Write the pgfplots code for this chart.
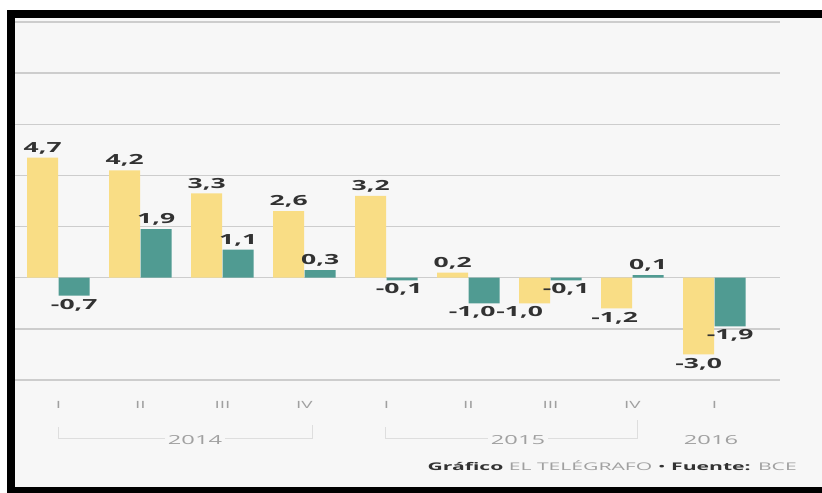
\documentclass[border=0pt]{standalone}
\usepackage{pgfplots}
\pgfplotsset{compat=1.18}
\usepackage{pgfplotstable}
\usepackage{fontspec}
\setmainfont{Open Sans}
\newfontfamily\labfont{Open Sans}[FakeStretch=1.9]
\newfontfamily\tickfont{Open Sans}[FakeStretch=1.9]
\newfontfamily\footfont{Open Sans}[FakeStretch=2.0]
\definecolor{yel}{RGB}{249,221,133}
\definecolor{teal2}{RGB}{80,155,146}
\definecolor{bgc}{RGB}{247,247,247}
\definecolor{gridc}{RGB}{205,205,205}
\definecolor{labc}{RGB}{50,50,50}
\definecolor{tickc}{RGB}{160,160,160}
\definecolor{brc}{RGB}{222,222,222}

\pgfplotstableread{
x y dx
0 4.7 0
1 4.2 0
2 3.3 0
3 2.6 0
4 3.2 0
5 0.2 0
6 -1.0 -15
7 -1.2 -2
8 -3.0 0
}\yellowtab
\pgfplotstableread{
x y dx
0 -0.7 0
1 1.9 0
2 1.1 0
3 0.3 0
4 -0.1 -3
5 -1.0 -12
6 -0.1 0
7 0.1 0
8 -1.9 0
}\tealtab

\begin{document}
\begin{tikzpicture}[x=1bp,y=1bp]
\useasboundingbox (0,0) rectangle (822,493);
\fill[white] (0,0) rectangle (822,493);
\fill[bgc] (15,6) rectangle (822,475);
\fill[black] (7,475) rectangle (822,483);
\fill[black] (7,0) rectangle (15,483);
\fill[black] (7,0) rectangle (822,6);

\begin{axis}[
  at={(15bp,113bp)}, anchor=south west,
  scale only axis, width=765bp, height=358bp,
  xmin=-0.53, xmax=8.80, ymin=-4, ymax=10,
  axis line style={draw=none},
  major tick length=0pt,
  ytick={-4,-2,...,10}, yticklabels={},
  ymajorgrids, grid style={color=gridc, line width=1.3bp},
  xtick={0,...,8},
  xticklabels={I,II,III,IV,I,II,III,IV,I},
  xticklabel style={font=\tickfont\fontsize{10}{10}\selectfont, text=tickc, anchor=base, yshift=-29bp},
  ybar=0.5bp, bar width=31bp,
  clip=false,
  visualization depends on={\thisrow{dx} \as \dx},
  nodes near coords={\pgfmathprintnumber[fixed,fixed zerofill,precision=1,use comma,assume math mode=true]{\pgfplotspointmeta}},
  every node near coord/.append style={font=\labfont\bfseries\fontsize{14}{14}\selectfont, text=labc, xshift=\dx bp},
]
\addplot[fill=yel, draw=none] table[x=x,y=y] {\yellowtab};
\addplot[fill=teal2, draw=none] table[x=x,y=y] {\tealtab};
\end{axis}

% year brackets
\draw[brc, line width=1bp] (58,54) -- (312,54);
\draw[brc, line width=1bp] (58,54) -- (58,66);
\draw[brc, line width=1bp] (312,54) -- (312,68);
\draw[brc, line width=1bp] (385,54) -- (637,54);
\draw[brc, line width=1bp] (385,54) -- (385,66);
\draw[brc, line width=1bp] (637,54) -- (637,73);
\node[fill=bgc, inner sep=3bp, text=tickc, font=\tickfont\fontsize{12.5}{12.5}\selectfont] at (195,53) {2014};
\node[fill=bgc, inner sep=3bp, text=tickc, font=\tickfont\fontsize{12.5}{12.5}\selectfont] at (518,53) {2015};
\node[fill=bgc, inner sep=3bp, text=tickc, font=\tickfont\fontsize{12.5}{12.5}\selectfont] at (711,53) {2016};

% footer
\node[anchor=base east, inner sep=0pt, font=\footfont\fontsize{10.6}{10.6}\selectfont] at (797,22)
  {\textcolor{labc}{\bfseries Gráfico} \textcolor{tickc}{EL TELÉGRAFO} \textcolor{labc}{•} \textcolor{labc}{\bfseries Fuente:} \textcolor{tickc}{BCE}};
% keep the right edge plain (no frame there)
\fill[bgc] (805,6) rectangle (822,475);
\end{tikzpicture}
\end{document}
